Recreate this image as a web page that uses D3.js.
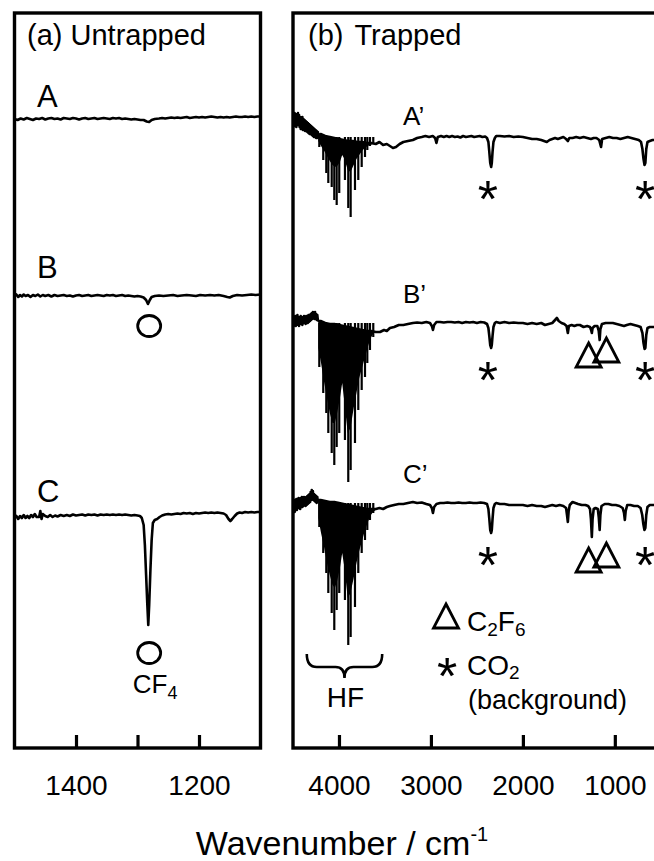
<!DOCTYPE html>
<html>
<head>
<meta charset="utf-8">
<script src="https://cdnjs.cloudflare.com/ajax/libs/d3/7.8.5/d3.min.js"></script>
<style>
  html, body { margin: 0; padding: 0; background: #fff; }
  svg { display: block; font-family: 'Liberation Sans', Arial, Helvetica, sans-serif; }
</style>
</head>
<body>
<div id="chart-container"></div>
<script>
// ---- data (wavenumber in cm-1, signal in arb. units, 0 = trace baseline) ----
const leftTicks = [1400, 1300, 1200];
const leftTickLabels = ['1400', '', '1200'];
const rightTicks = [4000, 3000, 2000, 1000];
const rightTickLabels = ['4000', '3000', '2000', '1000'];

const untrappedNames = ['A', 'B', 'C'];
const trappedNames = ['A\u2019', 'B\u2019', 'C\u2019'];
const untrappedOffsets = [62.9, 45.2, 23.3];
const trappedOffsets = [61.1, 42.5, 24.5];

const traceA = [[1500,0.0],[1495,-0.1],[1490,0.05],[1485,-0.05],[1480,0.1],[1475,0.0],[1470,-0.1],[1465,0.05],[1460,0.0],[1455,0.1],[1450,-0.05],[1445,0.05],[1440,0.1],[1435,0.0],[1430,0.05],[1425,-0.05],[1420,0.1],[1415,0.05],[1410,0.0],[1405,0.1],[1400,0.05],[1395,-0.05],[1390,0.05],[1385,0.1],[1380,0.0],[1375,0.05],[1370,0.1],[1365,0.0],[1360,0.05],[1355,0.1],[1350,0.05],[1345,0.0],[1340,0.1],[1335,0.05],[1330,0.1],[1325,0.0],[1320,0.05],[1315,0.0],[1310,-0.05],[1305,0.0],[1300,-0.05],[1295,-0.1],[1290,-0.1],[1285,-0.25],[1281,-0.3],[1277,-0.1],[1272,0.0],[1265,0.05],[1260,0.1],[1255,0.05],[1250,0.1],[1245,0.15],[1240,0.1],[1235,0.15],[1230,0.1],[1225,0.15],[1220,0.2],[1215,0.1],[1210,0.15],[1205,0.2],[1200,0.15],[1195,0.2],[1190,0.15],[1185,0.2],[1180,0.25],[1175,0.2],[1170,0.15],[1165,0.2],[1160,0.15],[1155,0.2],[1150,0.15],[1145,0.2],[1140,0.25],[1135,0.2],[1130,0.2],[1125,0.25],[1120,0.2],[1115,0.25],[1110,0.2],[1105,0.25],[1100,0.25]];

const traceB = [[1500,0.0],[1497,0.15],[1494,-0.1],[1491,0.1],[1488,-0.05],[1485,0.15],[1482,0.0],[1478,0.1],[1474,-0.1],[1470,0.1],[1466,0.0],[1462,0.15],[1458,-0.05],[1454,0.1],[1450,0.0],[1445,0.1],[1440,-0.05],[1435,0.1],[1430,0.0],[1425,0.05],[1420,0.1],[1415,0.0],[1410,0.05],[1405,-0.05],[1400,0.05],[1395,0.1],[1390,0.0],[1385,0.05],[1380,0.1],[1375,0.0],[1370,0.05],[1365,0.1],[1360,0.05],[1355,0.0],[1350,0.1],[1345,0.05],[1340,0.1],[1335,0.0],[1330,0.05],[1325,0.1],[1320,0.0],[1315,0.05],[1310,0.0],[1305,-0.05],[1300,0.0],[1295,-0.05],[1290,-0.15],[1286,-0.4],[1283,-0.8],[1280,-0.4],[1277,-0.1],[1272,0.0],[1265,0.05],[1258,0.0],[1250,0.05],[1242,0.1],[1235,0.0],[1228,0.05],[1220,0.1],[1212,0.05],[1205,0.0],[1198,0.1],[1190,0.05],[1182,0.1],[1175,0.05],[1168,0.1],[1160,0.0],[1154,-0.1],[1150,-0.15],[1145,0.0],[1138,0.1],[1130,0.05],[1122,0.1],[1115,0.15],[1108,0.1],[1100,0.15]];

const traceC = [[1500,-0.3],[1497,-0.1],[1494,-0.4],[1491,-0.1],[1488,-0.3],[1485,0.0],[1482,-0.3],[1479,-0.1],[1476,-0.3],[1473,0.0],[1470,-0.2],[1467,0.1],[1464,-0.2],[1460,-0.2],[1458,0.4],[1456,-0.4],[1454,0.1],[1450,-0.1],[1446,-0.2],[1442,0.0],[1438,-0.2],[1434,-0.05],[1430,-0.15],[1425,0.0],[1420,-0.1],[1415,0.0],[1410,-0.1],[1405,0.05],[1400,-0.05],[1395,0.0],[1390,0.05],[1385,-0.05],[1380,0.05],[1375,0.0],[1370,0.05],[1365,-0.05],[1360,0.05],[1355,0.0],[1350,0.05],[1345,0.0],[1340,0.05],[1335,0.0],[1330,0.05],[1325,0.0],[1320,0.05],[1315,0.0],[1310,-0.05],[1305,0.0],[1300,-0.05],[1296,-0.1],[1293,-0.3],[1290,-1.0],[1288,-3.0],[1286,-6.0],[1284,-9.0],[1282.5,-11.0],[1281,-9.0],[1279,-5.5],[1277,-2.5],[1275,-0.8],[1272,-0.5],[1268,-0.4],[1264,-0.2],[1260,-0.05],[1255,0.05],[1250,0.1],[1245,0.05],[1240,0.1],[1235,0.15],[1230,0.1],[1225,0.2],[1220,0.15],[1215,0.2],[1210,0.1],[1205,0.2],[1200,0.15],[1195,0.2],[1190,0.25],[1185,0.2],[1180,0.25],[1175,0.2],[1170,0.25],[1165,0.2],[1160,0.15],[1156,0.0],[1152,-0.4],[1149,-0.6],[1146,-0.4],[1142,-0.1],[1138,0.15],[1134,0.25],[1130,0.2],[1125,0.3],[1120,0.25],[1115,0.3],[1110,0.25],[1105,0.3],[1100,0.3]];

const tracePrimeA = [[4500,1.0],[4494,2.2],[4488,1.1],[4482,2.4],[4476,1.3],[4470,2.3],[4464,1.0],[4458,2.1],[4452,1.4],[4446,2.4],[4440,1.2],[4434,2.2],[4428,1.0],[4422,2.0],[4416,0.8],[4410,1.9],[4404,0.9],[4398,2.0],[4392,0.7],[4386,1.8],[4380,0.9],[4374,1.7],[4368,0.6],[4362,1.6],[4356,0.6],[4350,1.5],[4344,0.5],[4338,1.4],[4332,0.4],[4326,1.3],[4320,0.3],[4314,1.2],[4308,0.3],[4302,1.1],[4296,0.2],[4290,1.0],[4284,0.1],[4278,0.9],[4272,0.0],[4266,0.8],[4260,0.0],[4254,0.7],[4248,-0.1],[4242,0.6],[4236,-0.1],[4230,0.5],[4222,0.0],[4200,0.3],[4150,0.1],[4100,0.0],[4050,-0.1],[4000,-0.2],[3950,-0.3],[3900,-0.4],[3850,-0.4],[3800,-0.5],[3750,-0.5],[3700,-0.6],[3650,-0.6],[3600,-0.7],[3560,-0.5],[3520,-0.8],[3480,-0.7],[3446,-0.9],[3413,-1.1],[3380,-1.0],[3340,-0.7],[3300,-0.5],[3250,-0.4],[3196,-0.3],[3150,-0.1],[3100,0.0],[3060,0.1],[3020,0.0],[2980,0.1],[2955,-0.1],[2940,-0.6],[2925,0.0],[2890,0.1],[2860,0.0],[2830,0.1],[2800,0.0],[2770,0.1],[2740,0.0],[2710,0.05],[2680,-0.05],[2650,0.1],[2620,0.0],[2590,0.05],[2560,0.1],[2530,0.0],[2500,0.05],[2470,0.1],[2440,0.0],[2410,0.05],[2390,-0.1],[2375,-0.5],[2365,-1.5],[2355,-2.6],[2345,-3.0],[2338,-2.6],[2330,-1.5],[2320,-0.5],[2305,-0.1],[2290,0.1],[2250,0.1],[2200,0.05],[2150,0.1],[2100,0.0],[2050,0.05],[2000,0.0],[1950,-0.1],[1900,-0.2],[1850,-0.2],[1800,-0.3],[1770,-0.4],[1740,-0.5],[1710,-0.3],[1680,-0.2],[1650,-0.1],[1620,-0.2],[1590,-0.1],[1560,0.0],[1530,-0.2],[1510,-0.4],[1495,-0.1],[1460,-0.1],[1420,0.0],[1380,-0.1],[1340,0.0],[1300,-0.1],[1260,-0.2],[1230,-0.1],[1200,-0.1],[1170,-0.3],[1150,-1.0],[1138,-0.2],[1100,-0.1],[1060,0.0],[1020,-0.1],[980,-0.1],[940,-0.2],[900,-0.1],[860,0.0],[820,-0.1],[780,-0.2],[740,-0.3],[715,-0.5],[700,-1.2],[688,-2.2],[677,-2.8],[668,-2.6],[658,-1.2],[645,-0.5],[620,-0.4],[590,-0.3],[560,-0.3],[500,-0.3],[400,-0.3]];

const tracePrimeB = [[4500,0.2],[4494,-0.3],[4488,0.6],[4482,-0.2],[4476,0.7],[4470,-0.3],[4464,0.5],[4458,-0.2],[4452,0.8],[4446,0.0],[4440,0.6],[4434,-0.3],[4428,0.5],[4422,-0.1],[4416,0.7],[4410,0.0],[4404,0.6],[4398,-0.2],[4392,0.5],[4386,0.1],[4380,0.7],[4374,0.0],[4368,0.6],[4362,-0.1],[4356,0.7],[4350,0.1],[4344,0.6],[4338,0.0],[4332,0.8],[4326,0.1],[4320,0.7],[4314,0.2],[4308,0.9],[4302,0.3],[4296,1.0],[4290,0.4],[4284,1.1],[4278,0.5],[4272,1.0],[4266,0.4],[4260,1.1],[4254,0.5],[4248,0.9],[4242,0.3],[4236,0.8],[4230,0.3],[4220,0.2],[4200,0.2],[4150,0.0],[4100,-0.1],[4050,-0.1],[4000,-0.2],[3950,-0.3],[3900,-0.4],[3850,-0.5],[3800,-0.6],[3750,-0.7],[3700,-0.8],[3650,-0.8],[3600,-0.9],[3554,-0.9],[3510,-0.7],[3480,-0.8],[3446,-0.5],[3400,-0.4],[3350,-0.2],[3300,-0.2],[3250,-0.1],[3196,0.0],[3150,0.05],[3100,0.0],[3050,0.1],[3010,0.0],[2990,-0.3],[2978,-0.7],[2965,-0.2],[2940,0.1],[2900,0.1],[2860,0.05],[2820,0.1],[2780,0.1],[2740,0.05],[2700,0.1],[2660,0.0],[2620,0.1],[2580,0.05],[2540,0.1],[2500,0.0],[2460,0.1],[2420,0.05],[2390,-0.1],[2375,-0.5],[2365,-1.3],[2355,-2.2],[2345,-2.5],[2338,-2.2],[2330,-1.3],[2320,-0.4],[2305,0.0],[2290,0.1],[2250,0.0],[2200,0.1],[2150,0.0],[2100,0.05],[2050,0.0],[2000,0.0],[1950,-0.1],[1900,0.0],[1850,-0.1],[1800,0.0],[1760,-0.2],[1720,-0.1],[1680,0.0],[1650,0.3],[1630,0.5],[1610,0.2],[1580,0.0],[1550,-0.1],[1525,-0.3],[1511,-1.0],[1500,-0.3],[1470,-0.2],[1440,-0.3],[1410,-0.2],[1380,-0.2],[1340,-0.4],[1300,-0.3],[1270,-0.4],[1258,-0.7],[1250,-1.0],[1242,-0.5],[1220,-0.3],[1190,-0.3],[1175,-0.8],[1165,-1.7],[1157,-0.6],[1140,-0.1],[1100,0.0],[1060,0.0],[1022,0.0],[980,-0.1],[940,-0.2],[900,-0.3],[870,-0.2],[830,-0.1],[790,-0.2],[750,-0.3],[720,-0.4],[700,-1.0],[688,-2.0],[676,-2.6],[668,-2.5],[658,-1.2],[645,-0.5],[620,-0.4],[590,-0.4],[550,-0.4],[400,-0.4]];

const tracePrimeC = [[4500,0.0],[4494,-0.8],[4488,0.3],[4482,-0.9],[4476,0.2],[4470,-0.6],[4464,0.4],[4458,-0.7],[4452,0.3],[4446,-0.5],[4440,0.5],[4434,-0.4],[4428,0.4],[4422,-0.6],[4416,0.5],[4410,-0.3],[4404,0.6],[4398,-0.4],[4392,0.5],[4386,-0.3],[4380,0.6],[4374,-0.2],[4368,0.5],[4362,-0.3],[4356,0.6],[4350,-0.2],[4344,0.7],[4338,-0.1],[4332,0.8],[4326,0.0],[4320,0.9],[4314,0.1],[4308,1.1],[4302,0.3],[4296,1.3],[4290,0.5],[4284,1.2],[4278,0.3],[4272,0.9],[4266,0.2],[4260,0.8],[4254,0.1],[4248,0.7],[4242,0.0],[4236,0.6],[4230,0.1],[4220,0.3],[4200,0.3],[4150,0.2],[4100,0.1],[4050,0.1],[4000,0.0],[3950,-0.1],[3900,-0.2],[3850,-0.3],[3800,-0.4],[3750,-0.5],[3700,-0.6],[3650,-0.6],[3600,-0.6],[3560,-0.5],[3520,-0.6],[3480,-0.4],[3446,-0.3],[3400,-0.2],[3350,-0.1],[3300,-0.1],[3250,0.0],[3196,0.1],[3150,0.0],[3100,0.05],[3050,-0.1],[3010,-0.2],[2990,-0.5],[2978,-1.0],[2965,-0.4],[2940,-0.1],[2900,0.0],[2860,0.0],[2820,0.05],[2780,0.0],[2740,0.0],[2700,0.05],[2660,0.0],[2620,0.0],[2580,0.05],[2540,0.0],[2500,0.0],[2460,0.05],[2420,0.0],[2390,-0.1],[2375,-0.6],[2365,-1.6],[2355,-2.7],[2345,-3.0],[2338,-2.7],[2330,-1.6],[2320,-0.5],[2305,-0.1],[2290,0.0],[2250,-0.1],[2200,-0.1],[2150,-0.2],[2100,-0.2],[2050,-0.2],[2000,-0.2],[1950,-0.3],[1900,-0.2],[1850,-0.3],[1800,-0.3],[1760,-0.4],[1720,-0.3],[1680,-0.2],[1640,-0.3],[1600,-0.2],[1560,-0.3],[1530,-0.5],[1520,-1.2],[1511,-1.9],[1502,-0.8],[1490,-0.2],[1460,0.1],[1430,0.0],[1400,-0.1],[1360,-0.2],[1320,-0.2],[1290,-0.3],[1270,-0.6],[1260,-1.6],[1250,-3.4],[1242,-1.6],[1230,-0.6],[1210,-0.5],[1185,-0.6],[1175,-1.4],[1165,-2.7],[1157,-1.2],[1145,-0.3],[1110,-0.1],[1070,-0.1],[1030,-0.2],[990,-0.2],[950,-0.3],[915,-0.5],[900,-1.0],[891,-1.7],[882,-0.8],[865,-0.2],[830,-0.2],[790,-0.3],[750,-0.3],[720,-0.5],[702,-1.2],[690,-2.1],[678,-2.7],[668,-2.5],[658,-1.2],[645,-0.4],[620,-0.2],[590,-0.2],[550,-0.2],[400,-0.2]];

// HF rotational lines: positions and depth in each trapped spectrum
const hfLines = [4214, 4171, 4138, 4116, 4079, 4051, 4025, 3997, 3935, 3899, 3873, 3826, 3790, 3753, 3717, 3692, 3663, 3627];
const hfDepthA = [-1.0, -2.3, -3.6, -4.6, -5.0, -6.3, -6.8, -5.6, -4.3, -7.1, -8.0, -5.3, -4.3, -3.0, -2.0, -1.3, -0.9, -0.6];
const hfDepthB = [-4.4, -7.0, -9.0, -11.0, -13.0, -14.2, -12.4, -11.0, -11.7, -15.9, -14.7, -12.0, -8.7, -6.7, -5.4, -4.0, -2.7, -1.4];
const hfDepthC = [-2.4, -5.0, -7.0, -9.0, -11.0, -12.7, -10.7, -9.0, -9.7, -14.2, -13.4, -10.4, -7.0, -5.0, -3.7, -2.7, -1.7, -1.0];

// dense (unresolved) part of the HF band: [wavenumber, upper, lower]
const hfBandA = [[4225,0.4,-0.4],[4195,0.3,-0.9],[4160,0.15,-1.4],[4130,0.1,-1.9],[4100,0.0,-2.4],[4070,-0.05,-2.8],[4045,-0.1,-3.0],[4020,-0.15,-2.9],[3990,-0.2,-2.5],[3965,-0.25,-1.8],[3940,-0.3,-2.2],[3905,-0.35,-3.3],[3875,-0.4,-3.5],[3840,-0.4,-2.8],[3810,-0.45,-2.2],[3780,-0.5,-1.8],[3750,-0.5,-1.4],[3720,-0.55,-1.1],[3690,-0.6,-0.9],[3660,-0.6,-0.8],[3630,-0.65,-0.7],[3600,-0.7,-0.7]];
const hfBandB = [[4225,0.3,-2.5],[4195,0.2,-4.0],[4160,0.05,-6.0],[4130,0.0,-7.5],[4100,-0.1,-9.0],[4070,-0.1,-10.0],[4045,-0.15,-10.0],[4020,-0.2,-9.0],[3990,-0.2,-7.5],[3965,-0.25,-6.0],[3940,-0.3,-8.0],[3905,-0.4,-11.0],[3875,-0.45,-10.5],[3840,-0.5,-8.5],[3810,-0.55,-7.0],[3780,-0.6,-5.5],[3750,-0.7,-4.5],[3720,-0.75,-3.5],[3690,-0.8,-2.5],[3660,-0.8,-1.6],[3630,-0.85,-1.1],[3600,-0.9,-0.9]];
const hfBandC = [[4225,0.3,-1.5],[4195,0.3,-3.0],[4160,0.2,-4.5],[4130,0.15,-6.0],[4100,0.1,-7.2],[4070,0.1,-8.2],[4045,0.05,-8.5],[4020,0.0,-7.8],[3990,0.0,-6.5],[3965,-0.05,-5.0],[3940,-0.1,-6.5],[3905,-0.2,-9.5],[3875,-0.25,-9.0],[3840,-0.3,-7.5],[3810,-0.35,-6.0],[3780,-0.45,-4.8],[3750,-0.5,-3.8],[3720,-0.55,-2.8],[3690,-0.6,-2.0],[3660,-0.6,-1.3],[3630,-0.6,-0.9],[3600,-0.6,-0.7]];

// assignment markers (wavenumbers)
const cf4Marks = [1281];
const co2Marks = [2380, 670];
const c2f6Marks = [1285, 1092];
const hfBrace = [4350, 3530];

(function() {
  displaySpectra();
})();

function displaySpectra() {
  const width = 654;
  const height = 861;
  const panelTop = 13;
  const panelBottom = 748;
  const panels = {
    left: { x0: 14.5, x1: 260.5 },
    right: { x0: 293, x1: 670 },
  };

  const svg = d3.select('#chart-container').append('svg')
      .attr('width', width)
      .attr('height', height)
      .attr('viewBox', `0 0 ${width} ${height}`);

  const yScale = d3.scaleLinear([0, 73.5], [panelBottom, panelTop]);
  const xLeft = d3.scaleLinear([1500, 1100], [panels.left.x0, panels.left.x1]);
  const xRight = d3.scaleLinear([4500, 400], [panels.right.x0, panels.right.x1]);

  const defs = svg.append('defs');
  defs.append('clipPath').attr('id', 'clip-left').append('rect')
      .attr('x', panels.left.x0).attr('y', panelTop)
      .attr('width', panels.left.x1 - panels.left.x0).attr('height', panelBottom - panelTop);
  defs.append('clipPath').attr('id', 'clip-right').append('rect')
      .attr('x', panels.right.x0).attr('y', panelTop)
      .attr('width', panels.right.x1 - panels.right.x0).attr('height', panelBottom - panelTop);

  // left panel: untrapped
  const gLeft = svg.append('g').attr('clip-path', 'url(#clip-left)');
  const untrapped = [traceA, traceB, traceC];
  untrapped.forEach((trace, i) => {
    drawTrace(gLeft, trace, xLeft, yScale, untrappedOffsets[i]);
  });

  // right panel: trapped
  const gRight = svg.append('g').attr('clip-path', 'url(#clip-right)');
  const trapped = [tracePrimeA, tracePrimeB, tracePrimeC];
  const bands = [hfBandA, hfBandB, hfBandC];
  const depths = [hfDepthA, hfDepthB, hfDepthC];
  trapped.forEach((trace, i) => {
    const off = trappedOffsets[i];
    const area = d3.area()
        .x(d => xRight(d[0]))
        .y0(d => yScale(off + d[1]))
        .y1(d => yScale(off + d[2]));
    gRight.append('path')
        .datum(bands[i])
        .attr('d', area)
        .attr('fill', '#000');
    gRight.append('g').selectAll('line')
        .data(hfLines.map((wn, j) => [wn, depths[i][j]]))
        .join('line')
        .attr('x1', d => xRight(d[0]))
        .attr('x2', d => xRight(d[0]))
        .attr('y1', yScale(off))
        .attr('y2', d => yScale(off + d[1]))
        .attr('stroke', '#000')
        .attr('stroke-width', 2.2);
    drawTrace(gRight, trace, xRight, yScale, off);
  });

  displayFrames(svg, panels, panelTop, panelBottom);
  displayAxes(svg, xLeft, xRight, panelBottom);
  displayLabels(svg, xLeft, xRight, yScale);
}

function drawTrace(g, trace, x, y, offset) {
  const line = d3.line()
      .x(d => x(d[0]))
      .y(d => y(offset + d[1]));
  g.append('path')
      .datum(trace)
      .attr('d', line)
      .attr('fill', 'none')
      .attr('stroke', '#000')
      .attr('stroke-width', 2.6)
      .attr('stroke-linejoin', 'round');
}

function displayFrames(svg, panels, top, bottom) {
  Object.values(panels).forEach(p => {
    svg.append('rect')
        .attr('x', p.x0)
        .attr('y', top)
        .attr('width', p.x1 - p.x0)
        .attr('height', bottom - top)
        .attr('fill', 'none')
        .attr('stroke', '#000')
        .attr('stroke-width', 3.4);
  });
}

function displayAxes(svg, xLeft, xRight, bottom) {
  const leftAxis = d3.axisBottom(xLeft)
      .tickValues(leftTicks)
      .tickFormat((d, i) => leftTickLabels[i])
      .tickSizeInner(-13)
      .tickSizeOuter(0)
      .tickPadding(27);
  const rightAxis = d3.axisBottom(xRight)
      .tickValues(rightTicks)
      .tickFormat((d, i) => rightTickLabels[i])
      .tickSizeInner(-13)
      .tickSizeOuter(0)
      .tickPadding(27);

  [leftAxis, rightAxis].forEach(axis => {
    const g = svg.append('g')
        .attr('transform', `translate(0, ${bottom})`)
        .call(axis);
    g.select('.domain').remove();
    g.selectAll('.tick line').attr('stroke', '#000').attr('stroke-width', 3.2);
    g.selectAll('.tick text')
        .attr('fill', '#000')
        .style('font-size', '28px')
        .style('font-family', "'Liberation Sans', Arial, sans-serif");
  });

  const title = svg.append('text')
      .attr('x', 342)
      .attr('y', 855)
      .attr('text-anchor', 'middle')
      .style('font-size', '34px');
  title.append('tspan').text('Wavenumber / cm');
  title.append('tspan').attr('dy', -14).style('font-size', '20px').text('-1');
}

function displayLabels(svg, xLeft, xRight, yScale) {
  // panel titles
  svg.append('text').attr('x', 27).attr('y', 45).style('font-size', '29px').text('(a) Untrapped');
  const tb = svg.append('text').attr('x', 308).attr('y', 45).style('font-size', '29px');
  tb.append('tspan').text('(b)');
  tb.append('tspan').attr('dx', 11).text('Trapped');

  // trace names
  const leftNameY = [107, 278, 502];
  untrappedNames.forEach((n, i) => {
    svg.append('text').attr('x', 37).attr('y', leftNameY[i]).style('font-size', '31px').text(n);
  });
  const rightNameY = [125, 303, 483];
  trappedNames.forEach((n, i) => {
    svg.append('text').attr('x', 403).attr('y', rightNameY[i]).style('font-size', '26px').text(n);
  });

  // CF4 circles (traces B and C)
  const circleY = [yScale(untrappedOffsets[1]) + 30, yScale(untrappedOffsets[2]) + 138];
  circleY.forEach(cy => {
    svg.append('ellipse')
        .attr('cx', xLeft(cf4Marks[0]))
        .attr('cy', cy)
        .attr('rx', 11.5)
        .attr('ry', 10.5)
        .attr('fill', 'none')
        .attr('stroke', '#000')
        .attr('stroke-width', 2.8);
  });
  const cf4 = svg.append('text').attr('x', xLeft(cf4Marks[0]) + 6).attr('y', 693)
      .attr('text-anchor', 'middle').style('font-size', '26px');
  cf4.append('tspan').text('CF');
  cf4.append('tspan').attr('dy', 6).style('font-size', '18px').text('4');

  // CO2 asterisks
  trappedOffsets.forEach((off, i) => {
    const gap = i === 1 ? 46 : 51;
    co2Marks.forEach(wn => {
      drawAsterisk(svg, xRight(wn), yScale(off) + gap);
    });
  });

  // C2F6 triangles on B' and C'
  const triGap = [[20, 15], [45, 40]];
  [1, 2].forEach((t, k) => {
    c2f6Marks.forEach((wn, j) => {
      drawTriangle(svg, xRight(wn), yScale(trappedOffsets[t]) + triGap[k][j]);
    });
  });

  // HF brace
  const bx0 = xRight(hfBrace[0]);
  const bx1 = xRight(hfBrace[1]);
  const bm = (bx0 + bx1) / 2;
  const path = d3.path();
  path.moveTo(bx0, 654);
  path.quadraticCurveTo(bx0, 667, bx0 + 10, 667);
  path.lineTo(bm - 9, 667);
  path.quadraticCurveTo(bm, 667, bm, 678);
  path.quadraticCurveTo(bm, 667, bm + 9, 667);
  path.lineTo(bx1 - 10, 667);
  path.quadraticCurveTo(bx1, 667, bx1, 654);
  svg.append('path').attr('d', path.toString())
      .attr('fill', 'none').attr('stroke', '#000').attr('stroke-width', 2.6);
  svg.append('text').attr('x', bm + 1).attr('y', 707).attr('text-anchor', 'middle')
      .style('font-size', '28px').text('HF');

  // legend
  drawTriangle(svg, 446, 604);
  const lc = svg.append('text').attr('x', 467).attr('y', 631).style('font-size', '28px');
  lc.append('tspan').text('C');
  lc.append('tspan').attr('dy', 5).style('font-size', '19px').text('2');
  lc.append('tspan').attr('dy', -5).text('F');
  lc.append('tspan').attr('dy', 5).style('font-size', '19px').text('6');
  drawAsterisk(svg, 447, 665);
  const lo = svg.append('text').attr('x', 467).attr('y', 675).style('font-size', '28px');
  lo.append('tspan').text('CO');
  lo.append('tspan').attr('dy', 4).style('font-size', '19px').text('2');
  svg.append('text').attr('x', 468).attr('y', 709).style('font-size', '27px').text('(background)');
}

function drawAsterisk(svg, cx, cy) {
  svg.append('text')
      .attr('x', cx)
      .attr('y', cy + 29)
      .attr('text-anchor', 'middle')
      .style('font-size', '52px')
      .text('*');
}

function drawTriangle(svg, cx, top) {
  const w = 12.5;
  const h = 24;
  svg.append('path')
      .attr('d', `M${cx},${top} L${cx + w},${top + h} L${cx - w},${top + h} Z`)
      .attr('fill', 'none')
      .attr('stroke', '#000')
      .attr('stroke-width', 2.8)
      .attr('stroke-linejoin', 'miter');
}
</script>
</body>
</html>
